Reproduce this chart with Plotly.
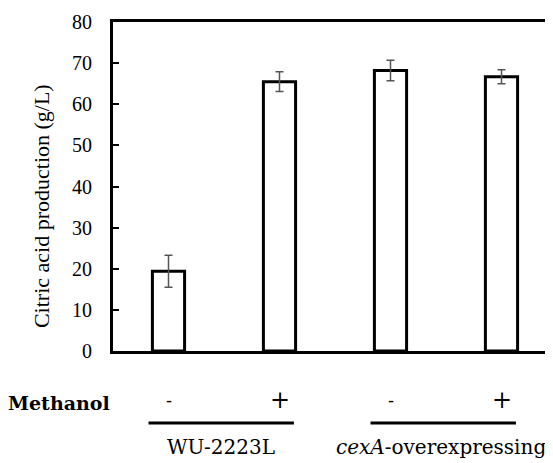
import plotly.graph_objects as go

conditions = ["WU-2223L -", "WU-2223L +", "cexA -", "cexA +"]
methanol = ["-", "+", "-", "+"]
values = [19.4, 65.5, 68.2, 66.7]
errors = [3.9, 2.4, 2.5, 1.7]
groups = ["WU-2223L", "<i>cexA</i>-overexpressing"]
yticks = [0, 10, 20, 30, 40, 50, 60, 70, 80]
ytitle = "Citric acid production (g/L)"

xpos = list(range(len(values)))

fig = go.Figure()
fig.add_trace(go.Bar(
    x=xpos, y=values, width=0.29,
    marker=dict(color="white", line=dict(color="black", width=3)),
    error_y=dict(type="data", array=errors, color="#555555", thickness=1.5, width=4),
    showlegend=False,
))

serif = "Liberation Serif"
label_font = "DejaVu Serif"

fig.update_layout(
    width=545, height=455,
    margin=dict(l=105, r=0, t=14, b=112),
    plot_bgcolor="white", paper_bgcolor="white",
    xaxis=dict(range=[-0.5, 3.464], showticklabels=False, ticks="",
               showline=True, linecolor="black", linewidth=3, mirror=True,
               showgrid=False, zeroline=False),
    yaxis=dict(range=[0, 80], tickvals=yticks, ticks="inside", ticklen=6,
               tickwidth=2, tickcolor="black",
               showline=True, linecolor="black", linewidth=3, mirror=False,
               showgrid=False, zeroline=False, ticklabelstandoff=14,
               tickfont=dict(family=serif, size=20, color="black")),
)

# y-axis title (placed lower than the plot centre, as in the reference)
fig.add_annotation(x=-0.161, xref="paper", y=0.441, yref="paper",
                   xanchor="center", yanchor="middle", textangle=-90,
                   text=ytitle, showarrow=False,
                   font=dict(family=serif, size=22, color="black"))

# Methanol +/- row
fig.add_annotation(x=0, xref="paper", xanchor="right", xshift=-1, y=-0.158, yref="paper",
                   yanchor="middle", text="<b>Methanol</b>", showarrow=False,
                   font=dict(family=label_font, size=19, color="black"))
for xi, m in zip(xpos, methanol):
    fig.add_annotation(x=xi, xref="x", y=-0.150, yref="paper", yanchor="middle",
                       text=m, showarrow=False,
                       font=dict(family=label_font, size=24 if m == "+" else 18, color="black"))

# group lines and labels
for gi, g in enumerate(groups):
    a, b = xpos[2 * gi], xpos[2 * gi + 1]
    fig.add_shape(type="line", xref="x", yref="paper", x0=a - 0.18, x1=b + 0.13,
                  y0=-0.219, y1=-0.219, line=dict(color="black", width=3))
    fig.add_annotation(x=(a + b) / 2, xref="x", y=-0.292, yref="paper", yanchor="middle",
                       xshift=-3 if gi == 0 else -5,
                       text=g, showarrow=False,
                       font=dict(family=label_font, size=20, color="black"))

fig.write_html("out.html")
